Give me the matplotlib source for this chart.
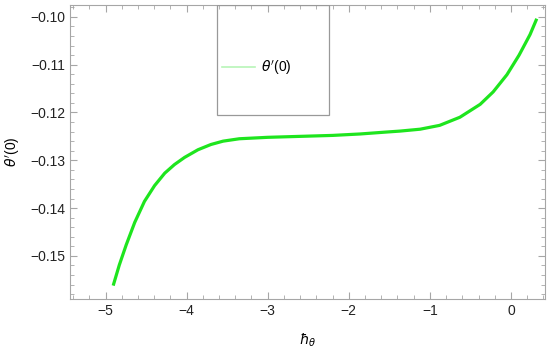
import matplotlib
matplotlib.use("Agg")
import matplotlib.pyplot as plt
from matplotlib.patches import Rectangle
from matplotlib.ticker import MultipleLocator

plt.rcParams['font.family'] = ['Liberation Sans', 'DejaVu Sans']
plt.rcParams['mathtext.fontset'] = 'dejavusans'

# values
h_theta = [-4.90, -4.83, -4.745, -4.64, -4.52, -4.395, -4.27, -4.15, -4.025, -3.86,
           -3.70, -3.55, -3.35, -3.00, -2.60, -2.20, -1.86, -1.54, -1.37, -1.12,
           -0.88, -0.63, -0.38, -0.22, -0.05, 0.10, 0.235, 0.31]
theta_p0 = [-0.1559, -0.1519, -0.1477, -0.1430, -0.1386, -0.1353, -0.1327, -0.1309,
            -0.1294, -0.1278, -0.1267, -0.1260, -0.1255, -0.1252, -0.1250, -0.1248,
            -0.1245, -0.1241, -0.1239, -0.1235, -0.1227, -0.1210, -0.1183, -0.1157,
            -0.1121, -0.1080, -0.1037, -0.1007]
xticks = [-5, -4, -3, -2, -1, 0]
yticks = [-0.15, -0.14, -0.13, -0.12, -0.11, -0.10]

fig, ax = plt.subplots(figsize=(5.5, 3.5), dpi=100)
fig.subplots_adjust(left=0.127, right=0.991, top=0.986, bottom=0.146)

ax.plot(h_theta, theta_p0, color='#1ee51e', lw=2.3, label=r"$\theta'$(0)",
        solid_joinstyle='round')

ax.set_xlim(-5.44, 0.42)
ax.set_ylim(-0.159, -0.0975)
ax.set_xticks(xticks)
ax.set_yticks(yticks)
ax.set_xticklabels(['\u2212%d' % abs(v) if v < 0 else '%d' % v for v in xticks])
ax.set_yticklabels(['\u2212%.2f' % abs(v) for v in yticks])
ax.xaxis.set_minor_locator(MultipleLocator(0.2))
ax.yaxis.set_minor_locator(MultipleLocator(0.002))

gray = '#a6a6a6'
for s in ax.spines.values():
    s.set_color(gray)
ax.tick_params(which='both', direction='in', top=True, right=True, color=gray,
               labelsize=10, labelcolor='#222222')
ax.tick_params(which='major', length=5)
ax.tick_params(which='minor', length=3)

ax.set_xlabel(r'$\hbar_\theta$', fontsize=10, labelpad=10)
ax.set_ylabel(r"$\theta'$(0)", fontsize=10, labelpad=6)

# legend box like the original
ax.add_patch(Rectangle((0.309, 0.626), 0.236, 0.374, transform=ax.transAxes,
                       fill=False, edgecolor='#999999', lw=0.9, zorder=5))
leg = ax.legend(loc='center left', bbox_to_anchor=(0.32, 0.786), frameon=False,
                fontsize=10, handlelength=2.4, handletextpad=0.4,
                borderpad=0, borderaxespad=0)
for ln in leg.get_lines():
    ln.set_color('#b8f5b8')
    ln.set_linewidth(1.2)

fig.savefig('out.png', dpi=100)
